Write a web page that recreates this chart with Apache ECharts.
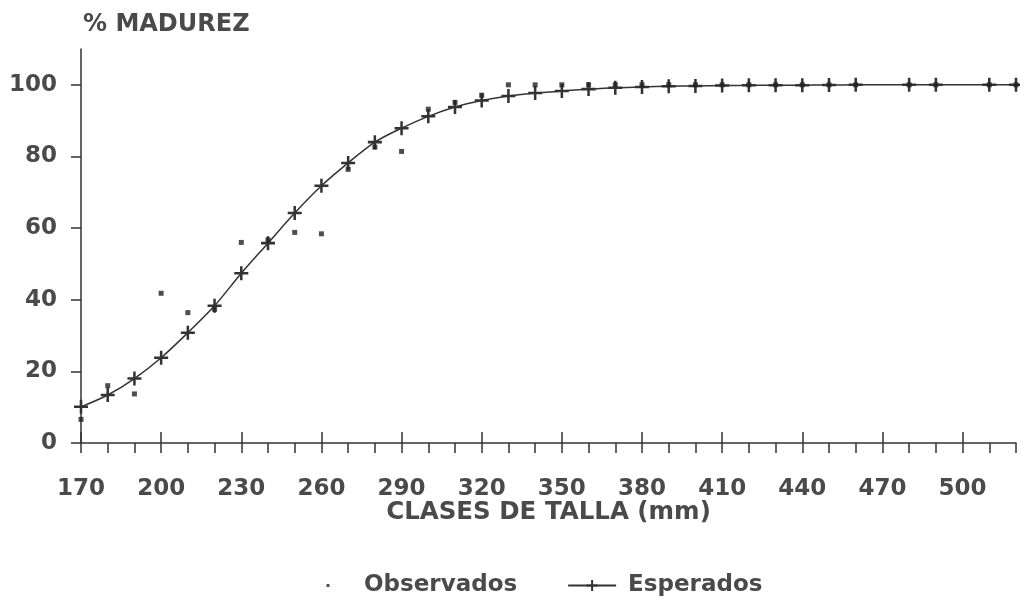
<!DOCTYPE html>
<html>
<head>
<meta charset="utf-8">
<script src="https://cdn.jsdelivr.net/npm/echarts@6/dist/echarts.min.js"></script>
<style>
html,body{margin:0;padding:0;background:#fff;}
#c{width:1020px;height:603px;}
</style>
</head>
<body>
<div id="c"></div>
<script>
// Observed maturity (%) by size class (mm)
var obsX = [170,180,190,200,210,220,230,240,250,260,270,280,290,300,310,320,330,340,350,360,370,380,390,400,410,420,430,440,450,460,480,490,510,520];
var obsY = [6.6,16,13.7,41.8,36.4,37.3,56,56.7,58.8,58.4,76.4,82.6,81.4,93.2,95.1,97.1,100,100,100,100,100,100,100,100,100,100,100,100,100,100,100,100,100,100];
// Expected (fitted) maturity (%)
var expX = [170,180,190,200,210,220,230,240,250,260,270,280,290,300,310,320,330,340,350,360,370,380,390,400,410,420,430,440,450,460,480,490,510,520];
var expY = [10.1,13.4,18,23.8,30.8,38.3,47.4,55.8,64.2,71.8,78.2,84.0,87.9,91.2,93.8,95.6,96.9,97.7,98.3,98.8,99.2,99.4,99.6,99.7,99.8,99.85,99.9,99.9,99.95,100,100,100,100,100];
var xLabels = [170,200,230,260,290,320,350,380,410,440,470,500];
var xMinor = [170,180,190,200,210,220,230,240,250,260,270,280,290,300,310,320,330,340,350,360,370,380,390,400,410,420,430,440,450,460,470,480,490,500,510,520];
var yLabels = [0,20,40,60,80,100];

var FONT = 'DejaVu Sans';
var TXT = '#4a4a4a';
var INK = '#333';

function pairs(xs, ys){ return xs.map(function(x,i){ return [x, ys[i]]; }); }

var chart = echarts.init(document.getElementById('c'), null, {renderer:'canvas'});
var cross = 'path://M4.1,0 h1.8 v10 h-1.8 z M0,4.1 h10 v1.8 h-10 z';

chart.setOption({
  animation:false,
  backgroundColor:'#fff',
  title:{
    text:'% MADUREZ', left:78, top:8,
    textStyle:{fontFamily:FONT, fontWeight:'bold', fontSize:24, color:TXT}
  },
  legend:{
    left:299, top:569, itemWidth:48, itemHeight:14, itemGap:50,
    textStyle:{fontFamily:FONT, fontWeight:'bold', fontSize:23, color:TXT, padding:[0,0,0,7]},
    data:[
      {name:'Observados', icon:'path://M0,0 M48,14 M22.5,5.5 h3 v3 h-3 z', itemStyle:{color:'#222'}},
      {name:'Esperados'}
    ]
  },
  grid:{left:81, right:4, top:49, bottom:160},
  xAxis:[{
    type:'value', min:170, max:520, position:'bottom',
    name:'CLASES DE TALLA (mm)', nameLocation:'middle', nameGap:57, nameMoveOverlap:false,
    nameTextStyle:{fontFamily:FONT, fontWeight:'bold', fontSize:24.5, color:TXT},
    axisLine:{show:true, onZero:false, lineStyle:{color:INK, width:1.5}},
    axisTick:{show:true, inside:false, length:10, customValues:xMinor, lineStyle:{color:INK, width:1.5}},
    axisLabel:{customValues:xLabels, margin:35, fontFamily:FONT, fontWeight:'bold', fontSize:23, color:TXT},
    splitLine:{show:false}
  },{
    type:'value', min:170, max:520, position:'bottom',
    axisLine:{show:false},
    axisTick:{show:true, inside:true, length:11, customValues:xLabels, lineStyle:{color:INK, width:1.5}},
    axisLabel:{show:false},
    splitLine:{show:false}
  }],
  yAxis:{
    type:'value', min:0, max:110,
    axisLine:{show:true, onZero:false, lineStyle:{color:INK, width:1.5}},
    axisTick:{show:true, inside:false, length:10, customValues:yLabels, lineStyle:{color:INK, width:1.5}},
    axisLabel:{customValues:yLabels, margin:24, fontFamily:FONT, fontWeight:'bold', fontSize:23, color:TXT},
    splitLine:{show:false}
  },
  series:[{
    name:'Observados', type:'scatter', xAxisIndex:0,
    data:pairs(obsX, obsY),
    symbol:'rect', symbolSize:5,
    itemStyle:{color:'#222'}, z:5
  },{
    name:'Esperados', type:'line', xAxisIndex:0,
    data:pairs(expX, expY),
    smooth:0.3,
    symbol:cross, symbolSize:14, showAllSymbol:true,
    lineStyle:{color:INK, width:1.5},
    itemStyle:{color:INK},
    z:4
  }]
});
</script>
</body>
</html>
